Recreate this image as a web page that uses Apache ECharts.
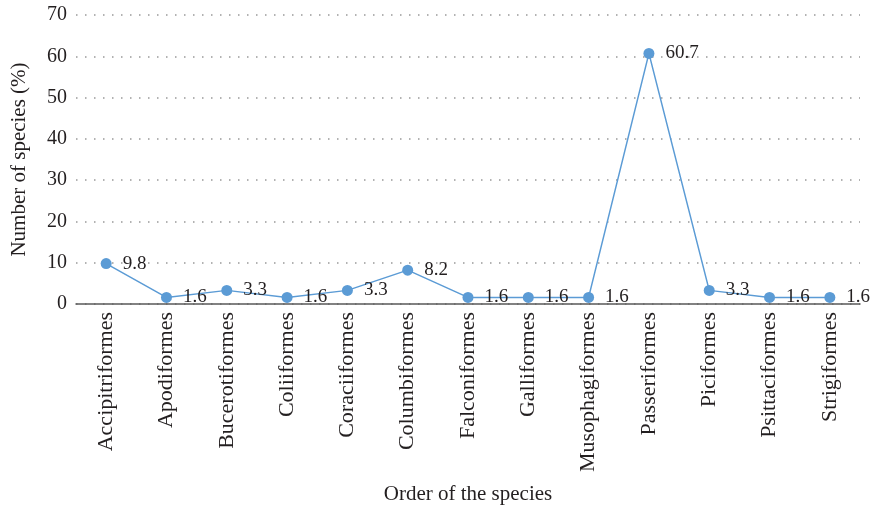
<!DOCTYPE html>
<html>
<head>
<meta charset="utf-8">
<script src="https://cdn.jsdelivr.net/npm/echarts@6/dist/echarts.min.js"></script>
<style>
    html, body { margin: 0; padding: 0; background: #fff; }
    #chart { width: 874px; height: 509px; }
</style>
</head>
<body>
<div id="chart"></div>
<script>
    // orders of birds and their share of species
    var orders = ['Accipitriformes', 'Apodiformes', 'Bucerotiformes', 'Coliiformes', 'Coraciiformes',
        'Columbiformes', 'Falconiformes', 'Galliformes', 'Musophagiformes', 'Passeriformes',
        'Piciformes', 'Psittaciformes', 'Strigiformes'];
    var percent = [9.8, 1.6, 3.3, 1.6, 3.3, 8.2, 1.6, 1.6, 1.6, 60.7, 3.3, 1.6, 1.6];

    var font = 'Liberation Serif';
    var myChart = echarts.init(document.getElementById('chart'));
    myChart.setOption({
        animation: false,
        grid: {left: 76, right: 14, top: 15, bottom: 205, outerBoundsMode: 'none'},
        xAxis: {
            type: 'category',
            data: orders,
            boundaryGap: true,
            name: 'Order of the species',
            nameLocation: 'middle',
            nameGap: 180,
            nameTextStyle: {fontFamily: font, fontSize: 21, color: '#231f20'},
            axisLine: {lineStyle: {color: '#595959', width: 1.5}},
            axisTick: {show: false},
            axisLabel: {rotate: 90, interval: 0, margin: 8, fontFamily: font, fontSize: 22, color: '#231f20'}
        },
        yAxis: {
            type: 'value',
            min: 0,
            max: 70,
            interval: 10,
            name: 'Number of species (%)',
            nameLocation: 'middle',
            nameGap: 46,
            nameTextStyle: {fontFamily: font, fontSize: 21, color: '#231f20'},
            axisLine: {show: false},
            axisTick: {show: false},
            axisLabel: {margin: 9, fontFamily: font, fontSize: 20, color: '#231f20'},
            splitLine: {lineStyle: {color: '#999999', type: [1.5, 7.5], width: 1.5}}
        },
        series: [{
            type: 'line',
            data: percent,
            symbol: 'circle',
            symbolSize: 11,
            itemStyle: {color: '#5b9bd5'},
            lineStyle: {color: '#5b9bd5', width: 1.5},
            label: {
                show: true,
                position: 'right',
                distance: 11,
                fontFamily: font,
                fontSize: 19,
                color: '#231f20'
            }
        }]
    });
</script>
</body>
</html>
